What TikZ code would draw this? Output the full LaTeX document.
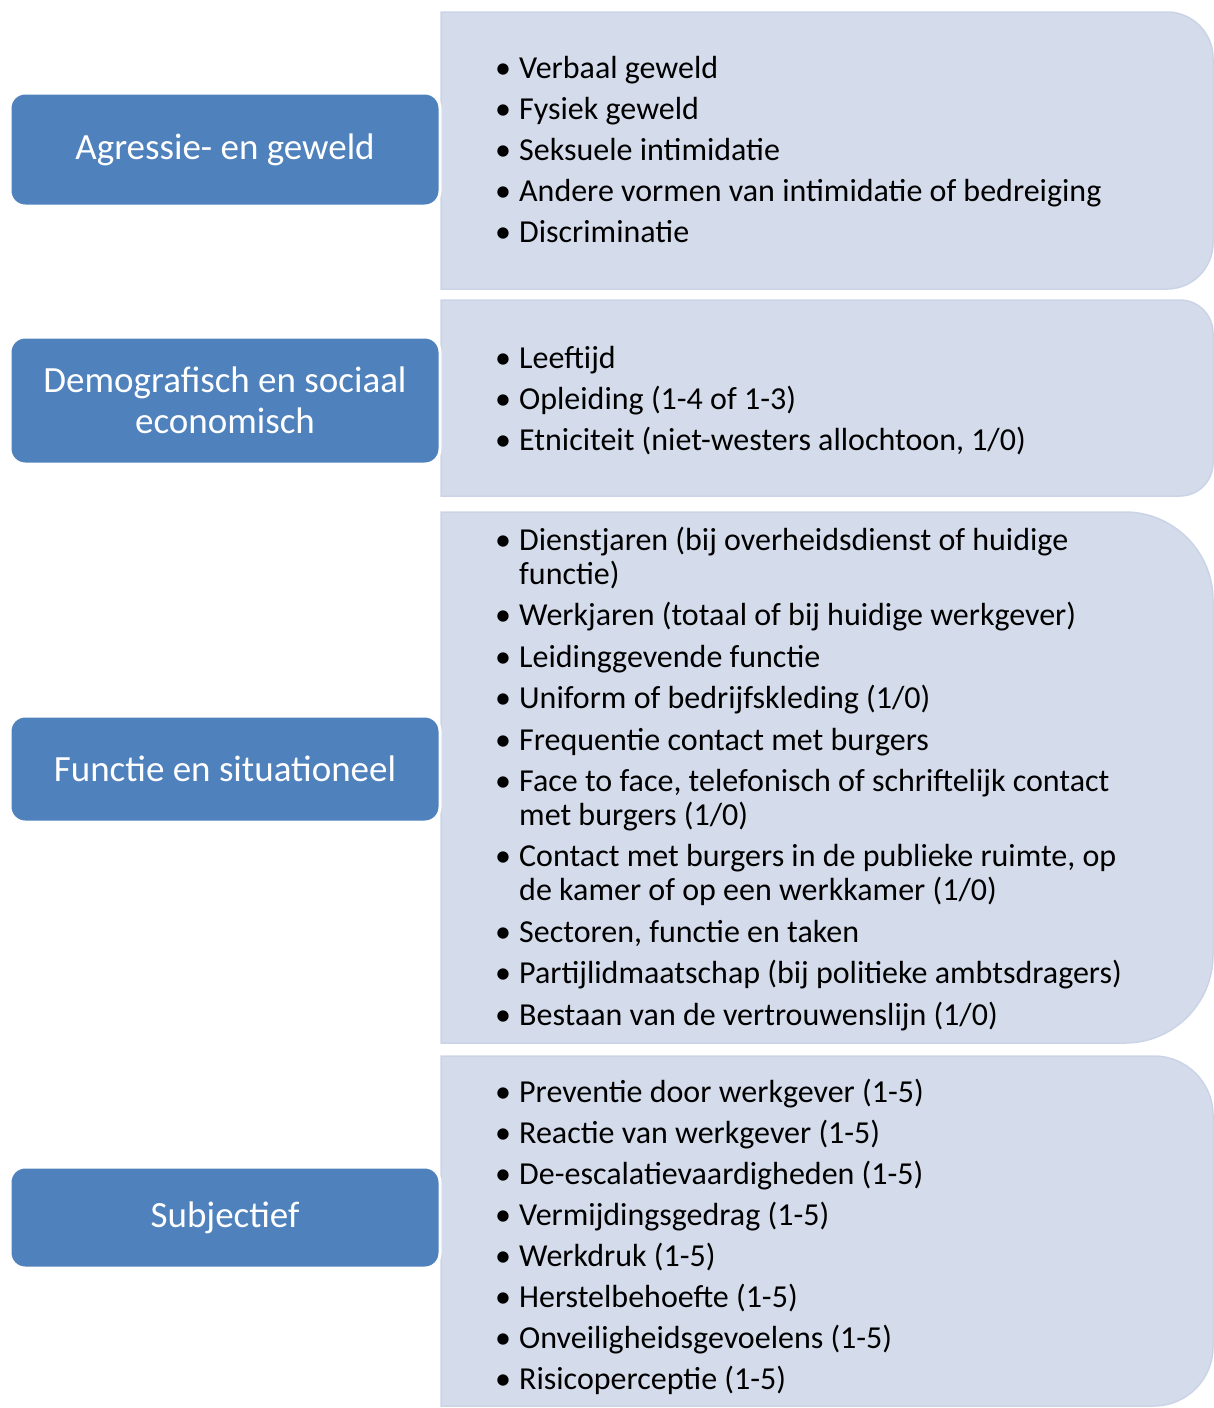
\documentclass[tikz,border=0pt]{standalone}
\usepackage{fontspec}
\setmainfont{Carlito}
\usetikzlibrary{positioning}
\definecolor{blauw}{HTML}{4F81BD}
\definecolor{lichtblauw}{HTML}{D4DBEA}
\definecolor{randblauw}{HTML}{CBD4E7}
\newcommand{\bol}{\makebox[24pt][l]{•}}
\newcommand{\inspring}{\hspace*{24pt}}
% rechter vak: boven, onder, straal
\newcommand{\rechtervak}[3]{%
  \draw[vak] (441,#1) -- ({1213-#3},#1)
    .. controls ({1213-0.45*#3},#1) and (1213,{#1+0.45*#3}) .. (1213,{#1+#3})
    -- (1213,{#2-#3})
    .. controls (1213,{#2-0.45*#3}) and ({1213-0.45*#3},#2) .. ({1213-#3},#2)
    -- (441,#2) -- cycle;}
\tikzset{
  kop/.style={draw=white,line width=3pt,fill=blauw,rounded corners=15pt,
    text=white,align=center,minimum width=430pt,inner sep=2pt,
    font=\fontsize{37}{41}\selectfont},
  vak/.style={draw=randblauw,line width=1.5pt,fill=lichtblauw},
  lijst/.style={anchor=base west,align=left,inner sep=0pt,
    font=\fontsize{32}{34}\selectfont}
}
\begin{document}
\begin{tikzpicture}[x=1pt,y=-1pt]
\fill[white] (0,0) rectangle (1214,1408);
\useasboundingbox (0,0) rectangle (1214,1408);
% rechter vakken
\rechtervak{12}{289}{46}
\rechtervak{300}{496}{33}
\rechtervak{512}{1043}{88}
\rechtervak{1056}{1406}{59}
% kopjes
\node[kop,minimum height=113pt] (agressie) at (225,149.5) {Agressie- en geweld};
\node[kop,minimum height=127pt] (demografie) at (225,400.5) {Demografisch en sociaal\\economisch};
\node[kop,minimum height=106pt] (functie) at (225,769) {Functie en situationeel};
\node[kop,minimum height=101pt] (subjectief) at (225,1217.5) {Subjectief};
% lijsten (geplaatst op de basislijn van de laatste regel)
\node[lijst] (lijstagressie) at (495,242) {\bol Verbaal geweld\\[7pt]
  \bol Fysiek geweld\\[7pt]
  \bol Seksuele intimidatie\\[7pt]
  \bol Andere vormen van intimidatie of bedreiging\\[7pt]
  \bol Discriminatie};
\node[lijst] (lijstdemografie) at (495,450) {\bol Leeftijd\\[7pt]
  \bol Opleiding (1-4 of 1-3)\\[7pt]
  \bol Etniciteit (niet-westers allochtoon, 1/0)};
\node[lijst] (lijstfunctie) at (495,1025) {\bol Dienstjaren (bij overheidsdienst of huidige\\
  \inspring functie)\\[7.4pt]
  \bol Werkjaren (totaal of bij huidige werkgever)\\[7.4pt]
  \bol Leidinggevende functie\\[7.4pt]
  \bol Uniform of bedrijfskleding (1/0)\\[7.4pt]
  \bol Frequentie contact met burgers\\[7.4pt]
  \bol Face to face, telefonisch of schriftelijk contact\\
  \inspring met burgers (1/0)\\[7.4pt]
  \bol Contact met burgers in de publieke ruimte, op\\
  \inspring de kamer of op een werkkamer (1/0)\\[7.4pt]
  \bol Sectoren, functie en taken\\[7.4pt]
  \bol Partijlidmaatschap (bij politieke ambtsdragers)\\[7.4pt]
  \bol Bestaan van de vertrouwenslijn (1/0)};
\node[lijst] (lijstsubjectief) at (495,1389) {\bol Preventie door werkgever (1-5)\\[7pt]
  \bol Reactie van werkgever (1-5)\\[7pt]
  \bol De-escalatievaardigheden (1-5)\\[7pt]
  \bol Vermijdingsgedrag (1-5)\\[7pt]
  \bol Werkdruk (1-5)\\[7pt]
  \bol Herstelbehoefte (1-5)\\[7pt]
  \bol Onveiligheidsgevoelens (1-5)\\[7pt]
  \bol Risicoperceptie (1-5)};
\end{tikzpicture}
\end{document}
